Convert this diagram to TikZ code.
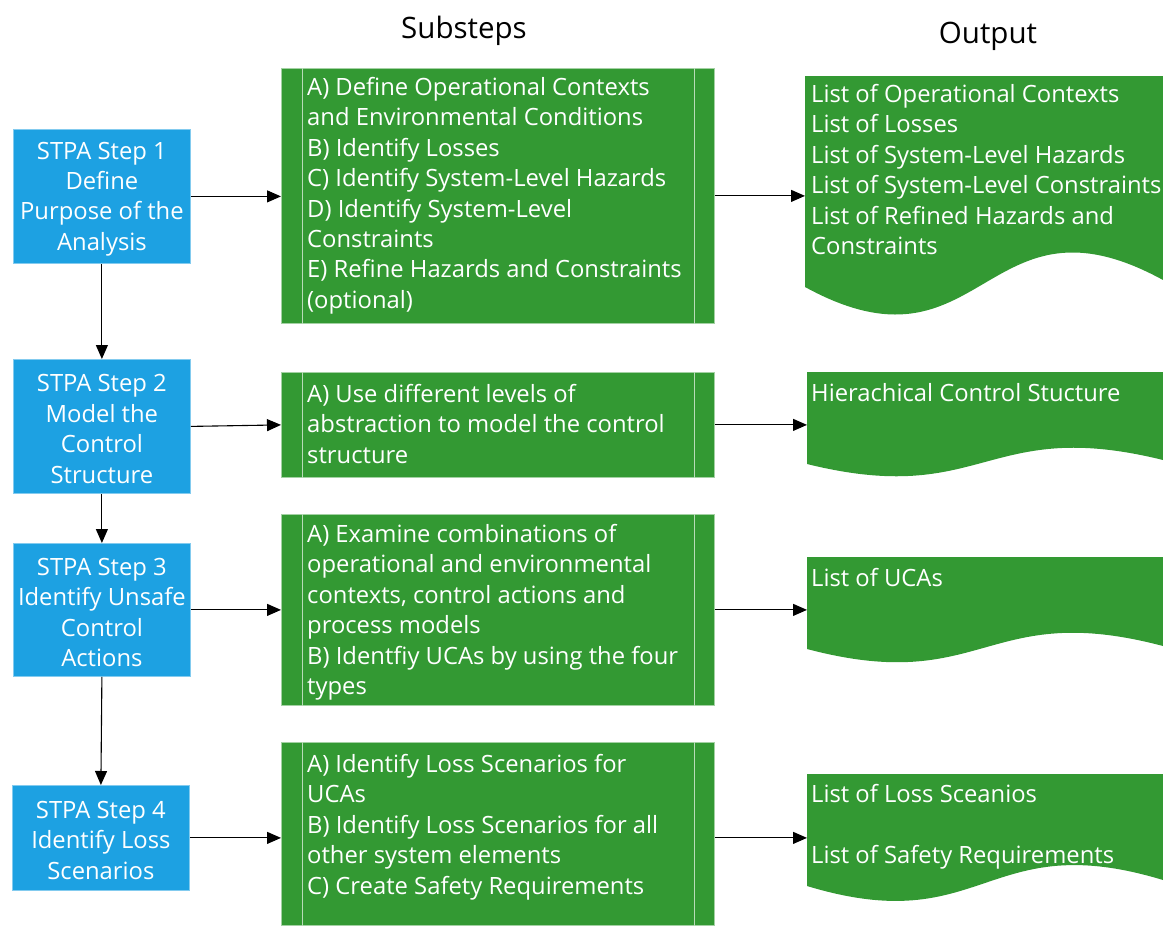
\documentclass[tikz,border=0pt]{standalone}
\usepackage{fontspec}
\setmainfont{Open Sans}
\usetikzlibrary{arrows.meta}

\definecolor{stepblue}{RGB}{29,161,226}
\definecolor{subgreen}{RGB}{51,153,51}
\newcommand\bodyfont{\fontsize{23.8}{30.4}\selectfont}
\newcommand\headfont{\fontsize{29.5}{34}\selectfont}

\tikzset{
  stepbox/.style={anchor=north west, fill=stepblue, draw=stepblue!55!white,
    line width=0.8pt, minimum width=177pt, inner sep=0pt},
  steptext/.style={text=white, align=center, inner sep=0pt, font=\bodyfont, yshift=-2.5pt},
  subbox/.style={anchor=north west, fill=subgreen, draw=subgreen!45!white,
    line width=0.8pt, minimum width=433pt, inner sep=0pt},
  subline/.style={draw=subgreen!35!white, line width=0.8pt},
  listtext/.style={anchor=north west, inner sep=0pt, text=white, align=left,
    font=\bodyfont, execute at begin node=\rule{0pt}{20pt}},
  docframe/.style={anchor=north west, minimum width=358pt, inner sep=0pt, draw=none},
  heading/.style={anchor=base, inner sep=0pt, font=\headfont},
  arr/.style={draw=black, line width=1.1pt, -{Triangle[length=14pt,width=12pt]}}
}

% output document: flat top, wavy bottom
\newcommand\docshape[6]{%
  \fill[subgreen] (#2,#3) -- (1163,#3) -- (1163,#5)
    .. controls (#2/2+581.5,#5-#6) and (#2/2+581.5,#4+#6) .. (#2,#4) -- cycle;
  \node[docframe, minimum height={#4-#3}] (#1) at (#2,#3) {};}

% predefined-process box with its two inner bars
\newcommand\subshape[4]{%
  \node[subbox, minimum height={#4}] (#1) at (#2,#3) {};
  \draw[subline] ([xshift=21pt]#1.north west) -- ([xshift=21pt]#1.south west);
  \draw[subline] ([xshift=-20pt]#1.north east) -- ([xshift=-20pt]#1.south east);}

% STPA step box with centred caption
\newcommand\stepshape[5]{%
  \node[stepbox, minimum height={#4}] (#1) at (#2,#3) {};
  \node[steptext] (#1t) at (#1.center) {#5};}

\begin{document}
\begin{tikzpicture}[x=1pt,y=-1pt]
\useasboundingbox (0,0) rectangle (1163,926);

% column headings
\node[heading] (hsub) at (464,38) {Substeps};
\node[heading] (hout) at (988,43) {Output};

% STPA steps
\stepshape{s1}{13}{129}{134}{STPA Step 1\\Define\\Purpose of the\\Analysis}
\stepshape{s2}{13}{359}{134}{STPA Step 2\\Model the\\Control\\Structure}
\stepshape{s3}{13}{543}{133}{STPA Step 3\\Identify Unsafe\\Control\\Actions}
\stepshape{s4}{12}{785}{105}{STPA Step 4\\Identify Loss\\Scenarios}

% substeps
\subshape{b1}{281}{68}{255}
\subshape{b2}{281}{372}{105}
\subshape{b3}{281}{514}{191}
\subshape{b4}{281}{742}{183}

\node[listtext] (t1) at (307,77) {A) Define Operational Contexts\\and Environmental Conditions\\B) Identify Losses\\C) Identify System-Level Hazards\\D) Identify System-Level\\Constraints\\E) Refine Hazards and Constraints\\(optional)};
\node[listtext] (t2) at (307,384) {A) Use different levels of\\abstraction to model the control\\structure};
\node[listtext] (t3) at (307,524) {A) Examine combinations of\\operational and environmental\\contexts, control actions and\\process models\\B) Identfiy UCAs by using the four\\types};
\node[listtext] (t4) at (307,754) {A) Identify Loss Scenarios for\\UCAs\\B) Identify Loss Scenarios for all\\other system elements\\C) Create Safety Requirements};

% outputs
\docshape{d1}{805}{76}{287}{280}{98}
\docshape{d2}{807}{372}{464}{460}{44}
\docshape{d3}{807}{557}{649}{646}{47}
\docshape{d4}{807}{774}{886}{880}{54}

\node[listtext] (o1) at (811,84) {List of Operational Contexts\\List of Losses\\List of System-Level Hazards\\List of System-Level Constraints\\List of Refined Hazards and\\Constraints};
\node[listtext] (o2) at (811,381) {Hierachical Control Stucture};
\node[listtext] (o3) at (811,566) {List of UCAs};
\node[listtext] (o4) at (811,784) {List of Loss Sceanios\\[30.4pt]List of Safety Requirements};

% step sequence
\draw[arr] (s1.south) -- (s2.north);
\draw[arr] (s2.south) -- (s3.north);
\draw[arr] (s3.south) -- (s4.north);

% step -> substeps -> output
\draw[arr] (s1.east) -- (s1.east -| b1.west);
\draw[arr] (b1.east) -- (b1.east -| d1.west);
\draw[arr] (s2.east) -- (b2.west);
\draw[arr] (b2.east) -- (b2.east -| d2.west);
\draw[arr] (s3.east) -- (s3.east -| b3.west);
\draw[arr] (b3.east) -- (b3.east -| d3.west);
\draw[arr] (s4.east) -- (s4.east -| b4.west);
\draw[arr] (s4.east -| b4.east) -- (s4.east -| d4.west);
\end{tikzpicture}
\end{document}
